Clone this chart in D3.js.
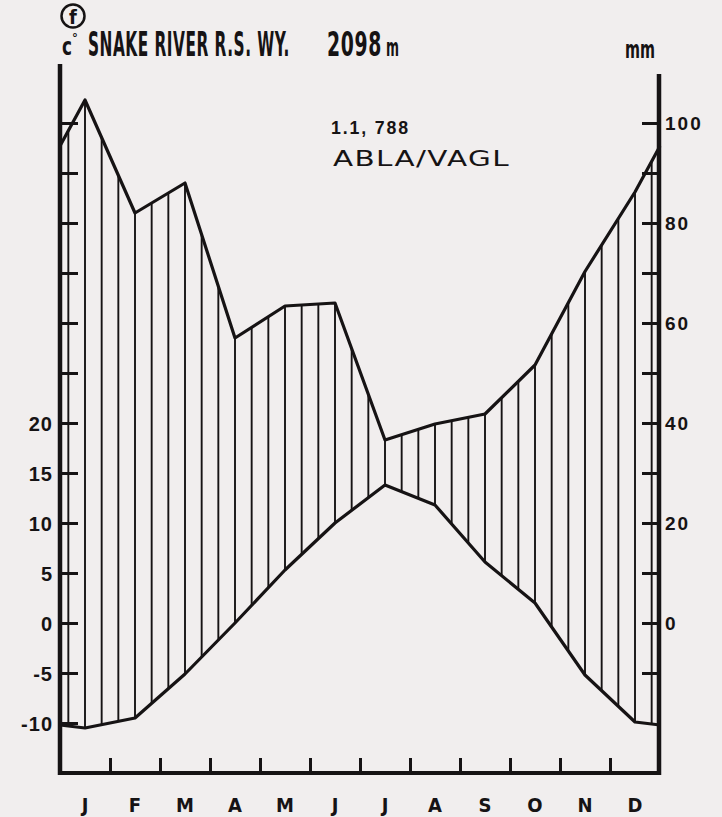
<!DOCTYPE html>
<html>
<head>
<meta charset="utf-8">
<script src="https://cdn.jsdelivr.net/npm/d3@7/dist/d3.min.js"></script>
<style>
  html, body { margin: 0; padding: 0; background: #f1eeee; }
  svg { display: block; }
  .cond { font-family: "Liberation Sans Narrow", "DejaVu Sans Condensed", "Roboto Condensed", sans-serif; font-weight: bold; }
  .num { font-family: "Liberation Sans", Arial, sans-serif; font-weight: bold; }
  .plain { font-family: "DejaVu Sans", "Noto Sans", sans-serif; }
</style>
</head>
<body>
<svg id="chart" width="722" height="817"></svg>
<script>
// Snake River R.S., Wyoming (2098 m) — climate diagram
const months = ["J", "F", "M", "A", "M", "J", "J", "A", "S", "O", "N", "D"];
const temperature = [-10.5, -9.5, -5.1, 0.0, 5.3, 10.0, 13.8, 11.8, 6.1, 2.0, -5.2, -9.9];       // °C
const precipitation = [104.6, 82.0, 88.0, 57.0, 63.4, 64.0, 36.6, 39.8, 41.8, 51.6, 70.3, 86.2]; // mm
const tempTicks = [-10, -5, 0, 5, 10, 15, 20, 25, 30, 35, 40, 45, 50];
const tempLabels = [-10, -5, 0, 5, 10, 15, 20];
const precipTicks = [-10, 0, 10, 20, 30, 40, 50, 60, 70, 80, 90, 100];
const precipLabels = [0, 20, 40, 60, 80, 100];
const station = "SNAKE RIVER R.S. WY.";
const elevation = "2098 m";
const summary = "1.1, 788";
const vegetation = "ABLA/VAGL";

const ink = "#161314";
const svg = d3.select("#chart");

// Walter–Lieth scaling: 10 °C on the left matches 20 mm on the right
const x = d3.scaleLinear().domain([0, 12]).range([60, 660]);
const yT = d3.scaleLinear().domain([-15, 50]).range([773, 123]);
const yP = d3.scaleLinear().domain([-30, 100]).range([773, 123]);

// curves run edge to edge; the edge value is the Dec/Jan midpoint
function series(vals) {
  const edge = (vals[0] + vals[11]) / 2;
  const pts = [[0, edge]];
  vals.forEach((v, i) => pts.push([i + 0.5, v]));
  pts.push([12, edge]);
  return pts;
}
const tPts = series(temperature);
const pPts = series(precipitation);

function valueAt(pts, m) {
  for (let i = 0; i < pts.length - 1; i++) {
    const a = pts[i], b = pts[i + 1];
    if (m >= a[0] && m <= b[0]) return a[1] + (b[1] - a[1]) * (m - a[0]) / (b[0] - a[0]);
  }
  return pts[pts.length - 1][1];
}

// humid-period hatching: three vertical strokes per month
const hatch = d3.range(36).map(k => (k + 0.5) / 3);
svg.append("g").selectAll("line").data(hatch).join("line")
  .attr("x1", m => x(m)).attr("x2", m => x(m))
  .attr("y1", m => yT(valueAt(tPts, m)))
  .attr("y2", m => yP(valueAt(pPts, m)))
  .attr("stroke", ink).attr("stroke-width", 1.9);

// temperature and precipitation curves
svg.append("path").datum(tPts)
  .attr("d", d3.line().x(d => x(d[0])).y(d => yT(d[1])))
  .attr("fill", "none").attr("stroke", ink).attr("stroke-width", 3.2).attr("stroke-linejoin", "round");
svg.append("path").datum(pPts)
  .attr("d", d3.line().x(d => x(d[0])).y(d => yP(d[1])))
  .attr("fill", "none").attr("stroke", ink).attr("stroke-width", 3.2).attr("stroke-linejoin", "round");

// left axis (°C)
const leftAxis = svg.append("g").attr("transform", `translate(${x(0)},0)`)
  .call(d3.axisLeft(yT).tickValues(tempTicks).tickSizeInner(-18).tickSizeOuter(0).tickPadding(7)
    .tickFormat(d => tempLabels.includes(d) ? (d < 0 ? "-" + Math.abs(d) : String(d)) : ""));
leftAxis.select(".domain").remove();
leftAxis.selectAll(".tick line").attr("stroke", ink).attr("stroke-width", 3);
leftAxis.selectAll(".tick text").attr("class", "num").attr("fill", ink)
  .style("font-size", "20px").style("letter-spacing", "1px").attr("dy", "0.36em");

// right axis (mm)
const rightAxis = svg.append("g").attr("transform", `translate(${x(12) - 2},0)`)
  .call(d3.axisRight(yP).tickValues(precipTicks).tickSizeInner(-16).tickSizeOuter(0).tickPadding(7)
    .tickFormat(d => precipLabels.includes(d) ? String(d) : ""));
rightAxis.select(".domain").remove();
rightAxis.selectAll(".tick line").attr("stroke", ink).attr("stroke-width", 3);
rightAxis.selectAll(".tick text").attr("class", "num").attr("fill", ink)
  .style("font-size", "19px").style("letter-spacing", "2px").attr("dy", "0.36em");

// bottom axis with month divisions
const bottomAxis = svg.append("g").attr("transform", `translate(0,${yT(-15)})`)
  .call(d3.axisBottom(x).tickValues(d3.range(1, 12)).tickSizeInner(-15).tickSizeOuter(0).tickFormat(""));
bottomAxis.select(".domain").remove();
bottomAxis.selectAll(".tick line").attr("stroke", ink).attr("stroke-width", 3);

svg.append("g").selectAll("text").data(months).join("text")
  .attr("class", "cond")
  .attr("x", (d, i) => x(i + 0.5)).attr("y", 812)
  .attr("text-anchor", "middle").attr("fill", ink)
  .style("font-size", "20px")
  .text(d => d);

// frame lines
svg.append("line").attr("x1", x(0)).attr("x2", x(0)).attr("y1", 64).attr("y2", yT(-15) + 2)
  .attr("stroke", ink).attr("stroke-width", 4.5);
svg.append("line").attr("x1", x(12) - 1).attr("x2", x(12) - 1).attr("y1", 74).attr("y2", yT(-15) + 2)
  .attr("stroke", ink).attr("stroke-width", 4.5);
svg.append("line").attr("x1", x(0) - 2).attr("x2", x(12) + 1).attr("y1", yT(-15)).attr("y2", yT(-15))
  .attr("stroke", ink).attr("stroke-width", 4);

// header text fitted to a target width by horizontal scaling
function fitted(str, x0, base, size, width, cls, spacing) {
  const g = svg.append("g");
  const t = g.append("text").attr("class", cls).attr("x", 0).attr("y", 0)
    .attr("fill", ink).style("font-size", size + "px")
    .style("letter-spacing", (spacing || 0) + "px").text(str);
  const w = t.node().getBBox().width;
  g.attr("transform", `translate(${x0},${base}) scale(${width / w},1)`);
  return t;
}

svg.append("circle").attr("cx", 73).attr("cy", 16).attr("r", 11.5)
  .attr("fill", "none").attr("stroke", ink).attr("stroke-width", 2.5);
svg.append("text").attr("class", "cond").attr("x", 73).attr("y", 24)
  .attr("text-anchor", "middle").attr("fill", ink).style("font-size", "20px").text("f");
fitted("c", 62, 55, 25, 10, "cond");
svg.append("text").attr("class", "cond").attr("x", 72).attr("y", 42)
  .attr("fill", ink).style("font-size", "13px").text("°");
fitted(station, 88, 56, 33, 202, "cond", 1);
fitted("2098", 327, 56, 33, 55, "cond", 1);
fitted("m", 386, 56, 25, 13, "cond");
fitted("mm", 625, 58, 25, 30, "cond");

fitted(summary, 331, 134, 19, 79, "num", 2);
fitted(vegetation, 333, 166, 21, 177, "plain", 1);
</script>
</body>
</html>
